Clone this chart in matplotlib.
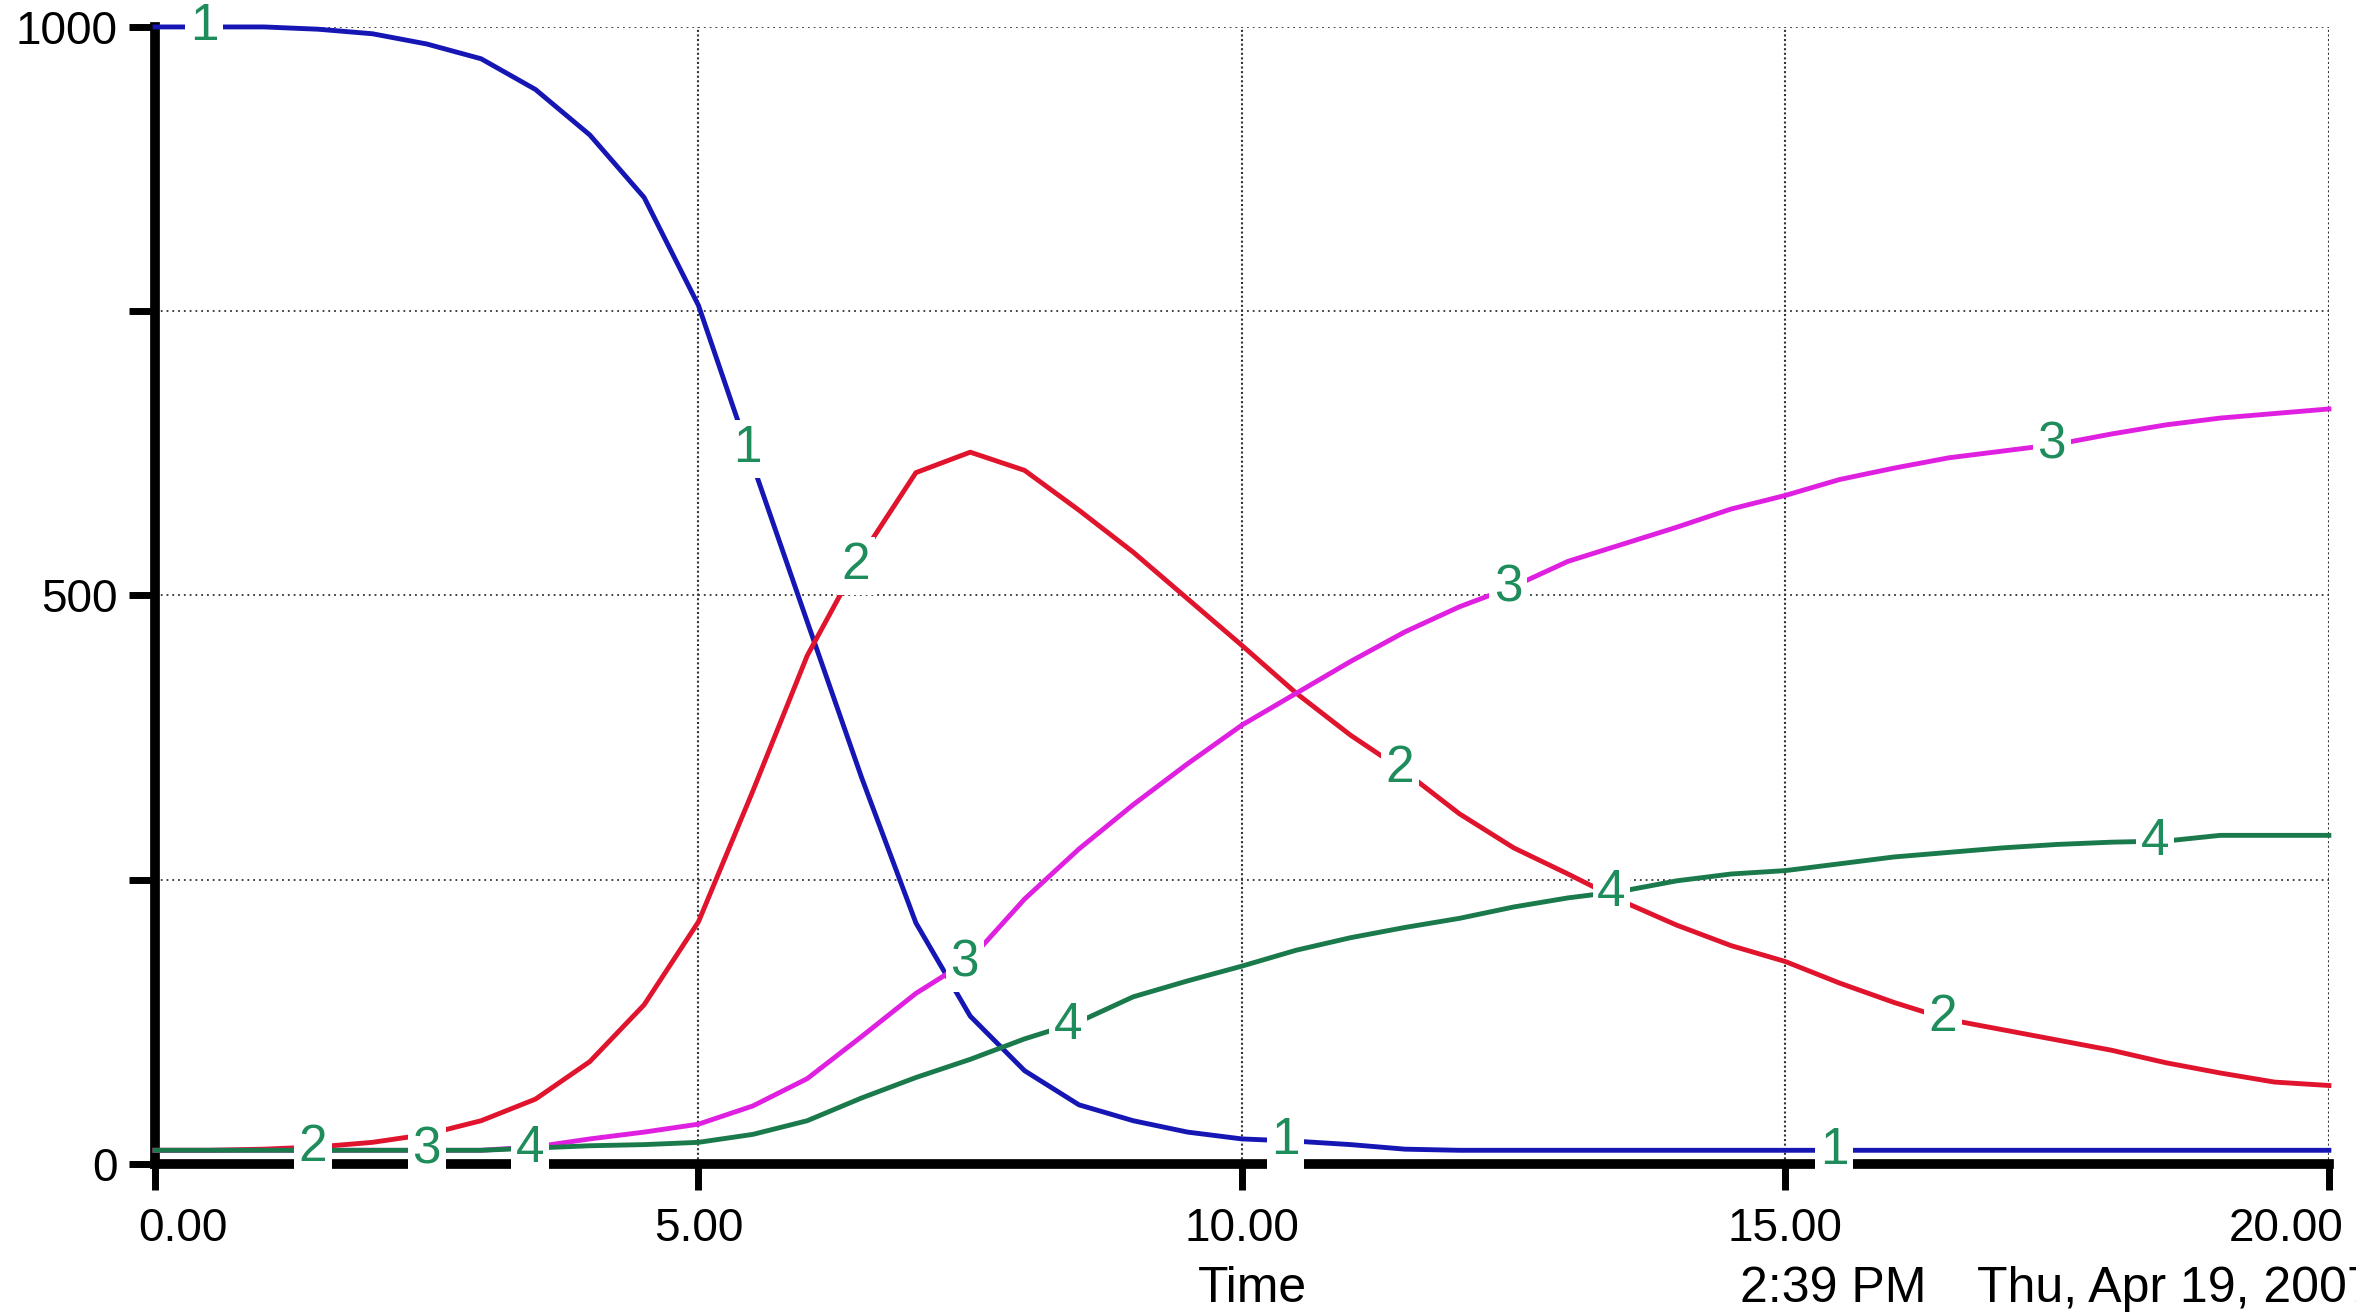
import numpy as np
import matplotlib
matplotlib.use("Agg")
import matplotlib.pyplot as plt
from matplotlib.transforms import ScaledTranslation

plt.rcParams['font.family'] = ['Liberation Sans', 'DejaVu Sans']

# time axis, values every 0.5
time = np.arange(0, 20.5, 0.5)

susceptible = [1000, 1000, 1000, 998, 994, 985, 972, 945, 905, 850,
               755, 615, 477, 340, 212, 130, 82, 52, 38, 28,
               22, 20, 17, 13, 12, 12, 12, 12, 12, 12,
               12, 12, 12, 12, 12, 12, 12, 12, 12, 12, 12]
infected = [12, 12, 13, 15, 19, 26, 38, 57, 90, 140,
            213, 328, 447, 535, 608, 626, 610, 575, 538, 497,
            456, 414, 377, 345, 308, 278, 255, 231, 210, 192,
            178, 159, 142, 127, 118, 109, 100, 89, 80, 72, 69]
recovered = [12, 12, 12, 12, 12, 12, 12, 15, 22, 28,
             35, 51, 75, 112, 150, 180, 233, 277, 316, 352,
             386, 414, 442, 468, 490, 508, 530, 545, 560, 576,
             588, 602, 612, 621, 627, 633, 642, 650, 656, 660, 664]
dead = [12, 12, 12, 12, 12, 12, 12, 14, 16, 17,
        19, 26, 38, 58, 76, 92, 110, 125, 147, 161,
        174, 188, 199, 208, 216, 226, 234, 240, 249, 255,
        258, 264, 270, 274, 278, 281, 283, 284, 289, 289, 289]

series = [susceptible, infected, recovered, dead]
colors = ['#1616b4', '#e0142c', '#e020e0', '#1a7a4c']
label_times = [[0.45, 5.45, 10.4, 15.45],
               [1.45, 6.45, 11.45, 16.45],
               [2.5, 7.45, 12.45, 17.45],
               [3.45, 8.4, 13.4, 18.4]]
xticks = [0, 5, 10, 15, 20]
xticklabels = ['0.00', '5.00', '10.00', '15.00', '20.00']
yticks = [0, 250, 500, 750, 1000]
yticklabels = ['0', '', '500', '', '1000']

fig = plt.figure(figsize=(23.56, 13.14), dpi=100)
ax = fig.add_axes([0.0658, 0.1142, 0.9227, 0.8653])

for i, s in enumerate(series):
    ax.plot(time, s, color=colors[i], lw=3.5, clip_on=False, zorder=3,
            solid_joinstyle='round')
    for t in label_times[i]:
        ax.text(t, np.interp(t, time, s), str(i + 1), color='#1f8c5c',
                fontsize=37, ha='center', va='center', zorder=4,
                bbox=dict(facecolor='white', edgecolor='none', pad=3.5))

ax.set_xlim(0, 20)
ax.set_ylim(0, 1000)
ax.set_xticks(xticks)
ax.set_xticklabels(xticklabels)
ax.set_yticks(yticks)
ax.set_yticklabels(yticklabels)
ax.tick_params(axis='both', labelsize=33, length=19, width=5, color='black')
ax.tick_params(axis='x', pad=12)
ax.tick_params(axis='y', pad=8)

# first and last time labels sit inside the figure like in the original
xl = ax.get_xticklabels()
xl[0].set_ha('left')
xl[0].set_transform(xl[0].get_transform() + ScaledTranslation(-0.17, 0, fig.dpi_scale_trans))
xl[-1].set_ha('right')
xl[-1].set_transform(xl[-1].get_transform() + ScaledTranslation(0.15, 0, fig.dpi_scale_trans))

for side in ['top', 'right']:
    ax.spines[side].set_visible(False)
for side in ['left', 'bottom']:
    ax.spines[side].set_linewidth(7)
    ax.spines[side].set_zorder(2)

# dotted grid on all non-zero ticks
for x in xticks[1:]:
    ax.axvline(x, color='#333333', lw=1.5, ls=(0, (1, 1.2)), zorder=1)
for y in yticks[1:]:
    ax.axhline(y, color='#333333', lw=1.3, ls=(0, (1, 2.2)), zorder=1)

fig.text(0.5315, 0.019, 'Time', fontsize=36, ha='center', va='center')
fig.text(0.7385, 0.019, '2:39 PM', fontsize=36, ha='left', va='center')
fig.text(0.8393, 0.019, 'Thu, Apr 19, 2007', fontsize=36, ha='left', va='center')

fig.savefig('out.png', dpi=100)
